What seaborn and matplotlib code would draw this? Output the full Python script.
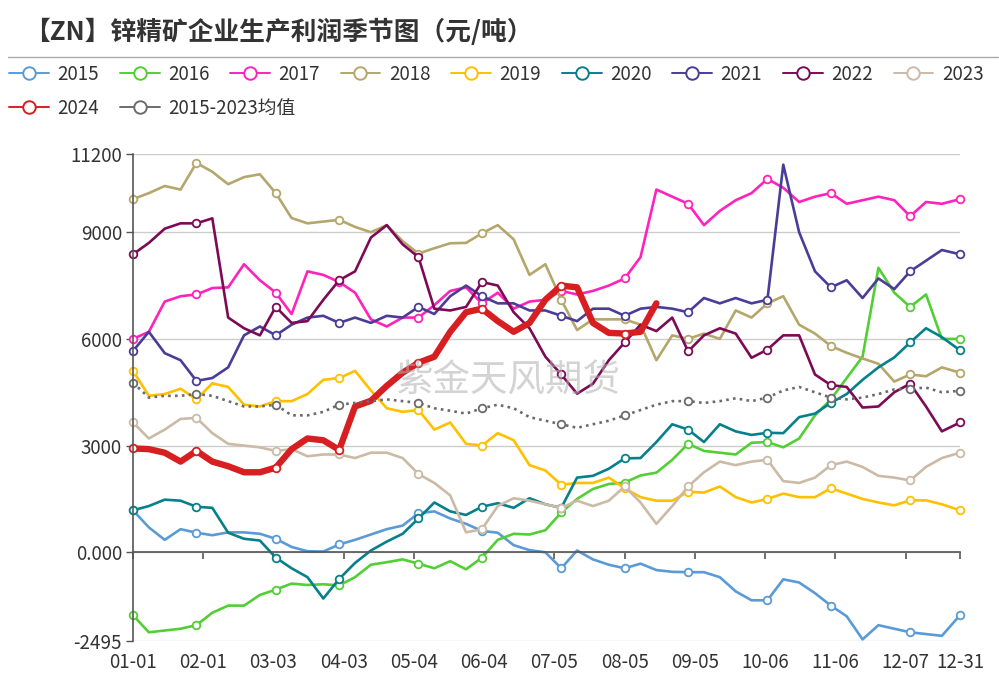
import matplotlib
matplotlib.use("Agg")
import matplotlib.pyplot as plt
import numpy as np
import pandas as pd
import seaborn as sns
from matplotlib.lines import Line2D

# day index in a 366-day year, sampled weekly (last point = 12-31)
days = list(range(0, 358, 7)) + [365]

tick_days = [0, 31, 62, 93, 124, 155, 186, 217, 248, 279, 310, 341, 365]
tick_labels = ['01-01', '02-01', '03-03', '04-03', '05-04', '06-04', '07-05',
               '08-05', '09-05', '10-06', '11-06', '12-07', '12-31']

y_ticks = [-2495, 0, 3000, 6000, 9000, 11200]
y_labels = ['-2495', '0.000', '3000', '6000', '9000', '11200']

v2015 = [1180, 700, 350, 650, 550, 480, 560, 560, 520, 380,
         150, 30, 20, 220, 350, 500, 650, 750, 1100, 1150,
         950, 800, 600, 550, 200, 60, 0, -450, 50, -200,
         -350, -450, -320, -500, -550, -560, -560, -700, -1100, -1350,
         -1350, -760, -850, -1150, -1500, -1800, -2450, -2050, -2150, -2250,
         -2300, -2350, -1770]
v2016 = [-1770, -2250, -2200, -2150, -2050, -1700, -1500, -1500, -1200, -1050,
         -880, -920, -900, -930, -700, -350, -280, -200, -320, -450,
         -250, -480, -150, 350, 520, 500, 620, 1120, 1500, 1780,
         1920, 1960, 2160, 2240, 2600, 3050, 2850, 2800, 2750, 3080,
         3100, 2950, 3200, 3850, 4300, 4900, 5500, 8000, 7300, 6900,
         7250, 6000, 6000]
v2017 = [6000, 6200, 7050, 7200, 7250, 7430, 7450, 8100, 7650, 7300,
         6700, 7900, 7800, 7600, 7300, 6550, 6350, 6600, 6600, 6950,
         7350, 7450, 7000, 7300, 6850, 7050, 7100, 7350, 7250, 7350,
         7500, 7700, 8300, 10200, 10000, 9800, 9200, 9600, 9900, 10100,
         10500, 10250, 9850, 10000, 10100, 9800, 9900, 10000, 9900, 9450,
         9850, 9800, 9930]
v2018 = [9930, 10100, 10300, 10200, 10950, 10700, 10350, 10550, 10630, 10100,
         9400, 9250, 9300, 9350, 9150, 9000, 9200, 8750, 8400, 8550,
         8690, 8700, 8970, 9200, 8800, 7800, 8100, 7100, 6250, 6550,
         6550, 6550, 6400, 5400, 6100, 6000, 6150, 6000, 6800, 6600,
         7000, 7200, 6400, 6150, 5800, 5610, 5450, 5300, 4800, 5000,
         4950, 5200, 5050]
v2019 = [5100, 4400, 4450, 4600, 4300, 4750, 4650, 4150, 4100, 4250,
         4250, 4450, 4850, 4900, 5100, 4550, 4050, 3950, 4000, 3450,
         3650, 3050, 3000, 3350, 3150, 2450, 2300, 1900, 1950, 1950,
         2100, 1800, 1550, 1450, 1450, 1700, 1680, 1850, 1550, 1400,
         1500, 1650, 1550, 1550, 1800, 1650, 1500, 1400, 1320, 1460,
         1460, 1350, 1180]
v2020 = [1180, 1300, 1480, 1450, 1280, 1250, 550, 380, 330, -150,
         -450, -700, -1300, -750, -300, 50, 300, 520, 950, 1400,
         1150, 1050, 1280, 1380, 1250, 1520, 1350, 1250, 2100, 2150,
         2350, 2640, 2650, 3100, 3600, 3450, 3100, 3600, 3400, 3300,
         3360, 3350, 3800, 3900, 4200, 4450, 4850, 5200, 5480, 5900,
         6300, 6050, 5680]
v2021 = [5660, 6200, 5600, 5400, 4820, 4900, 5200, 6100, 6350, 6100,
         6400, 6600, 6650, 6450, 6600, 6450, 6650, 6600, 6900, 6700,
         7200, 7500, 7200, 7000, 7000, 6800, 6800, 6650, 6500, 6850,
         6850, 6650, 6850, 6900, 6850, 6750, 7150, 7000, 7150, 7000,
         7100, 10900, 9000, 7900, 7450, 7650, 7150, 7700, 7400, 7900,
         8200, 8500, 8380]
v2022 = [8380, 8700, 9100, 9250, 9250, 9390, 6600, 6300, 6100, 6900,
         6450, 6500, 7100, 7650, 7900, 8850, 9200, 8660, 8300, 6850,
         6800, 6900, 7600, 7500, 6750, 6300, 5500, 5000, 4460, 4740,
         5400, 5900, 6400, 6220, 6600, 5650, 6100, 6300, 6150, 5470,
         5700, 6100, 6100, 5000, 4700, 4650, 4070, 4100, 4500, 4740,
         4100, 3400, 3650]
v2023 = [3650, 3200, 3450, 3750, 3780, 3350, 3050, 3000, 2950, 2850,
         2900, 2700, 2750, 2750, 2650, 2800, 2800, 2650, 2200, 1950,
         1600, 560, 650, 1300, 1520, 1450, 1350, 1250, 1450, 1300,
         1450, 1850, 1400, 800, 1300, 1850, 2250, 2550, 2450, 2550,
         2600, 2000, 1950, 2100, 2450, 2550, 2400, 2150, 2100, 2020,
         2400, 2650, 2800]
v2024 = [2920, 2900, 2800, 2550, 2850, 2550, 2420, 2250, 2250, 2380,
         2900, 3200, 3150, 2880, 4100, 4260, 4680, 5050, 5330, 5500,
         6200, 6750, 6850, 6500, 6200, 6450, 7100, 7500, 7450, 6450,
         6170, 6150, 6200, 7000]
vmean = [4770, 4350, 4400, 4400, 4450, 4400, 4250, 4100, 4100, 4150,
         3850, 3850, 3950, 4150, 4200, 4250, 4300, 4250, 4200, 4050,
         3980, 3900, 4050, 4150, 4050, 3800, 3700, 3600, 3500, 3600,
         3700, 3850, 4000, 4150, 4250, 4250, 4200, 4250, 4330, 4250,
         4350, 4550, 4650, 4500, 4350, 4300, 4350, 4450, 4580, 4600,
         4630, 4500, 4540]

names = ['2015', '2016', '2017', '2018', '2019', '2020', '2021', '2022', '2023',
         '2024', '2015-2023均值']
values = [v2015, v2016, v2017, v2018, v2019, v2020, v2021, v2022, v2023, v2024, vmean]
colors = ['#5b9bd5', '#52cf35', '#ff22bb', '#b5a66c', '#ffc000', '#06808b',
          '#4a3d98', '#7d0a55', '#cbbba6', '#d71f22', '#6b6b6b']

sns.set_theme(style='white')
plt.rcParams['font.family'] = ['Noto Sans CJK SC', 'DejaVu Sans']

fig = plt.figure(figsize=(9.99, 6.77), dpi=100)
ax = fig.add_axes([133 / 999, 1 - 641 / 677, 827 / 999, 487 / 677])

days_arr = np.array(days)
for name, vals, col in zip(names, values, colors):
    d = days_arr[:len(vals)]
    mk = sorted({int(np.abs(d - t).argmin()) for t in tick_days if t <= d[-1] + 3})
    df = pd.DataFrame({'day': d, 'val': vals})
    lw = 4.6 if name == '2024' else 1.9
    ls = (0, (1, 1.6)) if name.endswith('均值') else '-'
    sns.lineplot(data=df, x='day', y='val', ax=ax, color=col, lw=lw, linestyle=ls,
                 marker='o', markevery=mk, markersize=5.5, markerfacecolor='white',
                 markeredgecolor=col, markeredgewidth=1.3, clip_on=False,
                 solid_joinstyle='round', legend=False)

ax.set_xlim(0, 365)
ax.set_ylim(-2495, 11200)
ax.set_xlabel('')
ax.set_ylabel('')

ax.set_yticks(y_ticks, y_labels)
ax.yaxis.grid(True, color='#cccccc', lw=1)
ax.tick_params(axis='y', length=5, width=1, color='#555555', pad=3,
               labelsize=13.5, labelcolor='#333333', left=True)

ax.set_xticks(tick_days, [''] * len(tick_days))
ax.tick_params(axis='x', direction='out', length=5, width=1.2, color='#555555', bottom=True)
ax.spines['bottom'].set_position(('data', 0))
for s in ['top', 'right']:
    ax.spines[s].set_visible(False)
for s in ['left', 'bottom']:
    ax.spines[s].set_color('#555555')
    ax.spines[s].set_linewidth(1.2)

sec = ax.secondary_xaxis('bottom')
sec.set_xticks(tick_days, tick_labels)
sec.tick_params(length=0, pad=8, labelsize=13.5, labelcolor='#333333')
sec.spines['bottom'].set_visible(False)

# watermark
fig.text(0.508, 1 - 381 / 677, '紫金天风期货', fontsize=27, color='#b0b0b0', alpha=0.55,
         ha='center', va='center', fontweight='light')

# title and rule
fig.text(24 / 999, 1 - 32 / 677, '【ZN】锌精矿企业生产利润季节图（元/吨）', fontsize=18.5,
         fontweight='bold', color='#333333', ha='left', va='center')
fig.add_artist(Line2D([8 / 999, 998 / 999], [1 - 57 / 677, 1 - 57 / 677],
                      color='#aaaaaa', lw=1, transform=fig.transFigure))

handles = [Line2D([], [], color=c, lw=1.4, marker='o', markersize=9,
                  markerfacecolor='white', markeredgecolor=c, markeredgewidth=1.4,
                  label=n) for n, c in zip(names, colors)]
leg_kw = dict(loc='upper left', frameon=False, fontsize=13.5, handlelength=2.13,
              handletextpad=0.45, columnspacing=1.1, borderaxespad=0, borderpad=0,
              labelcolor='#333333')
fig.legend(handles=handles[:9], ncol=9, bbox_to_anchor=(9 / 999, 1 - 64 / 677), **leg_kw)
fig.legend(handles=handles[9:], ncol=2, bbox_to_anchor=(9 / 999, 1 - 98 / 677), **leg_kw)

fig.savefig('out.png', dpi=100)
